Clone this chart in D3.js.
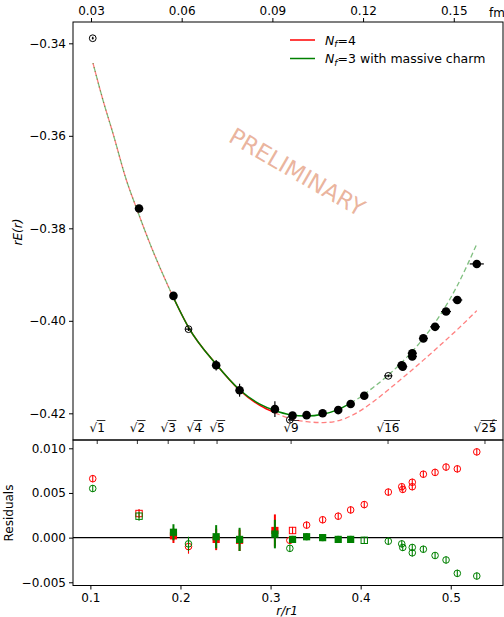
<!DOCTYPE html>
<html>
<head>
<meta charset="utf-8">
<script src="https://cdn.jsdelivr.net/npm/d3@7"></script>
<style>
  body { margin: 0; background: #fff; }
  svg { display: block; font-family: "DejaVu Sans", sans-serif; }
</style>
</head>
<body>
<div id="chart"></div>
<script>
// --- data ---
const rVals   = [0.1026, 0.1540, 0.1922, 0.2089, 0.2396, 0.2656, 0.3048, 0.3214, 0.3244, 0.3400, 0.3578, 0.3751,
                 0.3889, 0.4040, 0.4307, 0.4456, 0.4467, 0.4573, 0.4573, 0.4696, 0.4826, 0.4948, 0.5073, 0.5289];
const eVals   = [-0.3389, -0.3757, -0.3946, -0.4018, -0.4096, -0.4150, -0.4191, -0.4214, -0.4205, -0.4204, -0.4200, -0.4193,
                 -0.4180, -0.4162, -0.4119, -0.4096, -0.4099, -0.4070, -0.4077, -0.4038, -0.4013, -0.3980, -0.3955, -0.3877];
const eErr    = [0.0003, 0.0003, 0.0004, 0.0004, 0.00115, 0.0014, 0.0017, 0.0004, 0.0004, 0.0003, 0.0003, 0.0003,
                 0.0003, 0.0003, 0.0003, 0.0003, 0.0003, 0.0003, 0.0003, 0.0003, 0.0003, 0.0003, 0.0003, 0.0003];
const rErr    = [0.001, 0.001, 0.001, 0.0037, 0.002, 0.002, 0.002, 0.002, 0.003, 0.003, 0.003, 0.003,
                 0.004, 0.004, 0.0045, 0.005, 0.005, 0.005, 0.005, 0.005, 0.0055, 0.0055, 0.0055, 0.0078];
const filled  = [false, true, true, false, true, true, true, false, true, true, true, true,
                 true, true, false, true, true, true, true, true, true, true, true, true];

const resRed     = [0.0066, 0.0027, 0.0002, -0.0010, -0.0002, -0.0003, 0.0008, -0.0003, 0.0008, 0.0014, 0.0020, 0.0024,
                    0.0031, 0.0037, 0.0051, 0.0057, 0.0054, 0.0062, 0.0057, 0.0071, 0.0073, 0.0079, 0.0077, 0.0096];
const resGreen   = [0.0055, 0.0024, 0.0006, -0.0007, 0.0001, -0.0002, 0.0004, -0.0012, -0.0002, 0.0001, 0.0000, -0.0002,
                    -0.0002, -0.0003, -0.0004, -0.0007, -0.0011, -0.0011, -0.0017, -0.0013, -0.0020, -0.0025, -0.0040, -0.0043];
const resRedErr  = [0.0004, 0.0005, 0.0008, 0.0008, 0.0012, 0.0012, 0.0018, 0.0004, 0.0004, 0.0004, 0.0004, 0.0004,
                    0.0004, 0.0004, 0.0004, 0.0004, 0.0004, 0.0004, 0.0004, 0.0004, 0.0004, 0.0004, 0.0004, 0.0004];
const resGreenErr= [0.0004, 0.0005, 0.0009, 0.0008, 0.0013, 0.0013, 0.0016, 0.0004, 0.0004, 0.0004, 0.0004, 0.0004,
                    0.0004, 0.0004, 0.0004, 0.0004, 0.0004, 0.0004, 0.0004, 0.0004, 0.0004, 0.0004, 0.0004, 0.0004];
// c = open circle, os = open square, fs = filled square
const redStyle   = ["c", "os", "fs", "c", "fs", "fs", "fs", "c", "os", "c", "c", "c",
                    "c", "c", "c", "c", "c", "c", "c", "c", "c", "c", "c", "c"];
const greenStyle = ["c", "os", "fs", "c", "fs", "fs", "fs", "c", "fs", "fs", "fs", "fs",
                    "fs", "os", "c", "c", "c", "c", "c", "c", "c", "c", "c", "c"];

// fit curves
const earlyR      = [0.1029, 0.1140, 0.1251, 0.1400, 0.1511, 0.1659, 0.1900];
const earlyE      = [-0.3443, -0.3523, -0.3595, -0.3696, -0.3756, -0.3832, -0.3941];
const redSolidR   = [0.1900, 0.2089, 0.2396, 0.2656, 0.2881, 0.3048];
const redSolidE   = [-0.3941, -0.4014, -0.4094, -0.4150, -0.4183, -0.4199];
const redDashR    = [0.3048, 0.3214, 0.3400, 0.3584, 0.3770, 0.3956, 0.4140, 0.4326, 0.4511, 0.4696, 0.4881, 0.5067, 0.5289];
const redDashE    = [-0.4199, -0.4211, -0.4218, -0.4220, -0.4215, -0.4199, -0.4175, -0.4146, -0.4116, -0.4085, -0.4053, -0.4020, -0.3978];
const greenSolidR = [0.1900, 0.2089, 0.2396, 0.2656, 0.2881, 0.3048, 0.3214, 0.3400, 0.3578, 0.3748, 0.3889];
const greenSolidE = [-0.3941, -0.4014, -0.4094, -0.4149, -0.4180, -0.4194, -0.4203, -0.4206, -0.4202, -0.4192, -0.4178];
const greenDashR  = [0.3889, 0.3956, 0.4140, 0.4326, 0.4511, 0.4696, 0.4881, 0.5067, 0.5289];
const greenDashE  = [-0.4178, -0.4170, -0.4144, -0.4114, -0.4079, -0.4038, -0.3988, -0.3926, -0.3834];

const xTicks    = [0.1, 0.2, 0.3, 0.4, 0.5];
const fmTicks   = [0.03, 0.06, 0.09, 0.12, 0.15];
const r1Fm      = 0.298;         // r1 in fm
const aOverR1   = 0.1076;        // lattice spacing in units of r1
const sqrtN     = [1, 2, 3, 4, 5, 9, 16, 25];
const eTicks    = [-0.34, -0.36, -0.38, -0.40, -0.42];
const resTicks  = [0.010, 0.005, 0.000, -0.005];
const legendLabels = ["=4", "=3 with massive charm"];

const RED = "#ff0000", GREEN = "#008000";

// --- layout ---
const W = 504, H = 617;
const left = 73, right = 503, topY = 22, midY = 440, botY = 585.5;

const svg = d3.select("#chart").append("svg").attr("width", W).attr("height", H);

const x = d3.scaleLinear().domain([0.0807, 0.558]).range([left, right]);
const yTop = d3.scaleLinear().domain([-0.42577, -0.33539]).range([midY, topY]);
const yRes = d3.scaleLinear().domain([-0.00536, 0.01093]).range([botY, midY]);

svg.append("defs").append("clipPath").attr("id", "clipTop")
  .append("rect").attr("x", left).attr("y", topY).attr("width", right - left).attr("height", midY - topY);

// --- axes ---
const fmt2 = d => d3.format(".2f")(d).replace("-", "\u2212");
const fmt3 = d => d3.format(".3f")(d).replace("-", "\u2212");

svg.append("g").attr("transform", `translate(${left},0)`)
  .call(d3.axisLeft(yTop).tickValues(eTicks).tickFormat(fmt2).tickSizeOuter(0).tickSize(4).tickPadding(3));
svg.append("g").attr("transform", `translate(${left},0)`)
  .call(d3.axisLeft(yRes).tickValues(resTicks).tickFormat(fmt3).tickSizeOuter(0).tickSize(4).tickPadding(3));
svg.append("g").attr("transform", `translate(0,${botY})`)
  .call(d3.axisBottom(x).tickValues(xTicks).tickFormat(d3.format(".1f")).tickSizeOuter(0).tickSize(4).tickPadding(4));
svg.append("g").attr("transform", `translate(0,${topY})`)
  .call(d3.axisTop(x).tickValues(fmTicks.map(f => f / r1Fm)).tickFormat((d, i) => d3.format(".2f")(fmTicks[i]))
    .tickSizeOuter(0).tickSize(4).tickPadding(3));

// sqrt(n) ticks at the panel boundary
const sq = svg.append("g");
sqrtN.forEach(n => {
  const px = x(aOverR1 * Math.sqrt(n));
  sq.append("line").attr("x1", px).attr("x2", px).attr("y1", midY).attr("y2", midY + 4)
    .attr("stroke", "#000").attr("stroke-width", 0.8);
  const g = sq.append("g");
  const t1 = g.append("text").attr("x", 0).attr("y", 0).attr("font-size", 12).text("\u221A");
  const w1 = t1.node().getComputedTextLength();
  const t2 = g.append("text").attr("x", w1).attr("y", 0).attr("font-size", 12).text(n);
  const w2 = t2.node().getComputedTextLength();
  g.append("line").attr("x1", w1 - 0.5).attr("x2", w1 + w2 + 0.5).attr("y1", -11.5).attr("y2", -11.5)
    .attr("stroke", "#000").attr("stroke-width", 0.8);
  g.attr("transform", `translate(${px - (w1 + w2) / 2},432)`);
});
// little fraction glued to the last label
const fr = svg.append("text").attr("font-size", 6.5).attr("font-style", "italic").attr("text-anchor", "middle");
fr.append("tspan").attr("x", 493).attr("y", 423).text("r");
fr.append("tspan").attr("x", 493).attr("y", 431.5).text("a");

svg.selectAll(".tick text").attr("font-size", 12).attr("fill", "#000").attr("font-family", "DejaVu Sans");
svg.selectAll(".tick line").attr("stroke", "#000");
svg.selectAll(".domain").remove();

svg.append("text").attr("x", 489).attr("y", 17).attr("font-size", 12).text("fm");

// frames
[[topY, midY], [midY, botY]].forEach(([a, b]) => {
  svg.append("rect").attr("x", left).attr("y", a).attr("width", right - left).attr("height", b - a)
    .attr("fill", "none").attr("stroke", "#000").attr("stroke-width", 1);
});

// axis titles
svg.append("text").attr("transform", "translate(22,232) rotate(-90)").attr("text-anchor", "middle")
  .attr("font-size", 12).attr("font-style", "italic").text("rE(r)");
svg.append("text").attr("transform", "translate(13,513) rotate(-90)").attr("text-anchor", "middle")
  .attr("font-size", 12).text("Residuals");
svg.append("text").attr("x", 287).attr("y", 615).attr("text-anchor", "middle")
  .attr("font-size", 12).attr("font-style", "italic").text("r/r1");

// watermark
svg.append("text").attr("transform", "translate(293,179) rotate(30)").attr("text-anchor", "middle")
  .attr("font-size", 23).attr("fill", "#d9754c").attr("fill-opacity", 0.55).text("PRELIMINARY");

// --- top panel curves ---
const plot = svg.append("g").attr("clip-path", "url(#clipTop)");
const line = d3.line().x(d => x(d[0])).y(d => yTop(d[1])).curve(d3.curveMonotoneX);
const zipc = (a, b) => a.map((v, i) => [v, b[i]]);

const dash = [[earlyR, earlyE, RED], [earlyR, earlyE, GREEN], [redDashR, redDashE, RED], [greenDashR, greenDashE, GREEN]];
dash.forEach(([rs, es, c], k) => {
  plot.append("path").datum(zipc(rs, es)).attr("d", line).attr("fill", "none")
    .attr("stroke", c).attr("stroke-opacity", 0.5).attr("stroke-width", 1.3)
    .attr("stroke-dasharray", "5,3").attr("stroke-dashoffset", k === 1 ? 4 : 0);
});
plot.append("path").datum(zipc(redSolidR, redSolidE)).attr("d", line).attr("fill", "none")
  .attr("stroke", RED).attr("stroke-width", 1.5);
plot.append("path").datum(zipc(greenSolidR, greenSolidE)).attr("d", line).attr("fill", "none")
  .attr("stroke", GREEN).attr("stroke-width", 1.5);

// data points
rVals.forEach((r, i) => {
  const cx = x(r), cy = yTop(eVals[i]);
  plot.append("line").attr("x1", cx).attr("x2", cx).attr("y1", yTop(eVals[i] - eErr[i])).attr("y2", yTop(eVals[i] + eErr[i]))
    .attr("stroke", "#000").attr("stroke-width", 1.2);
  plot.append("line").attr("x1", x(r - rErr[i])).attr("x2", x(r + rErr[i])).attr("y1", cy).attr("y2", cy)
    .attr("stroke", "#000").attr("stroke-width", 1.2);
  if (filled[i]) {
    plot.append("circle").attr("cx", cx).attr("cy", cy).attr("r", 4.3).attr("fill", "#000");
  } else {
    plot.append("circle").attr("cx", cx).attr("cy", cy).attr("r", 3.4).attr("fill", "none")
      .attr("stroke", "#000").attr("stroke-width", 1);
  }
});

// legend
const leg = svg.append("g");
[RED, GREEN].forEach((c, i) => {
  const yy = 40 + i * 18.5;
  leg.append("line").attr("x1", 290).attr("x2", 315).attr("y1", yy).attr("y2", yy).attr("stroke", c).attr("stroke-width", 1.5);
  const t = leg.append("text").attr("x", 325).attr("y", yy + 4.5).attr("font-size", 12.5);
  t.append("tspan").attr("font-style", "italic").text("N");
  t.append("tspan").attr("font-style", "italic").attr("font-size", 9).attr("dy", 2.5).text("f");
  t.append("tspan").attr("dy", -2.5).text(legendLabels[i]);
});

// --- residuals ---
const res = svg.append("g");
res.append("line").attr("x1", left).attr("x2", right).attr("y1", yRes(0)).attr("y2", yRes(0))
  .attr("stroke", "#000").attr("stroke-width", 1.3);

function drawRes(vals, errs, styles, c) {
  rVals.forEach((r, i) => {
    const cx = x(r), cy = yRes(vals[i]);
    const st = styles[i];
    res.append("line").attr("x1", cx).attr("x2", cx)
      .attr("y1", yRes(vals[i] - errs[i])).attr("y2", yRes(vals[i] + errs[i]))
      .attr("stroke", c).attr("stroke-width", st === "fs" ? 2 : 1.1);
    if (st === "c") {
      res.append("circle").attr("cx", cx).attr("cy", cy).attr("r", 3.3).attr("fill", "none")
        .attr("stroke", c).attr("stroke-width", 1);
    } else if (st === "os") {
      res.append("rect").attr("x", cx - 3.2).attr("y", cy - 3.2).attr("width", 6.4).attr("height", 6.4)
        .attr("fill", "none").attr("stroke", c).attr("stroke-width", 1);
    } else {
      res.append("rect").attr("x", cx - 3.6).attr("y", cy - 3.6).attr("width", 7.2).attr("height", 7.2)
        .attr("fill", c);
    }
  });
}
drawRes(resRed, resRedErr, redStyle, RED);
drawRes(resGreen, resGreenErr, greenStyle, GREEN);
</script>
</body>
</html>
